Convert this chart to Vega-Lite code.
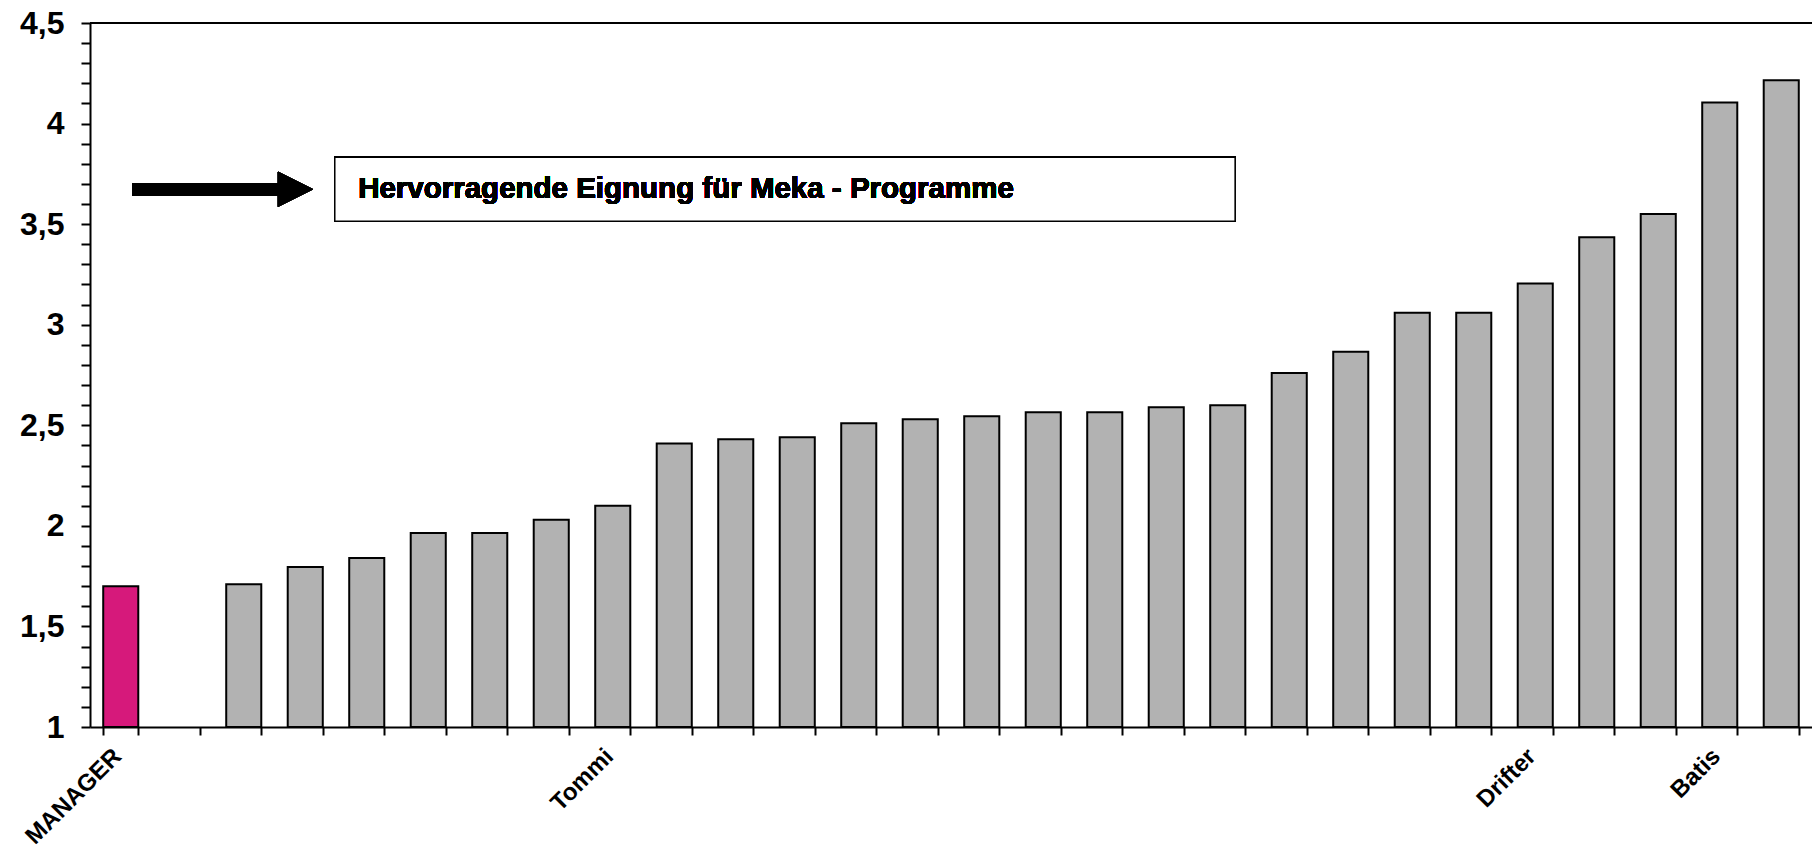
{
  "$schema": "https://vega.github.io/schema/vega-lite/v6.json",
  "width": 1722,
  "height": 704,
  "autosize": {"type": "none"},
  "padding": {"left": 90, "top": 23, "right": 0, "bottom": 122},
  "background": "white",
  "config": {"view": {"stroke": null}, "font": "Liberation Sans"},
  "data": {
    "values": [
      {"slot": 0, "name": "MANAGER", "group": "Manager", "value": 1.70},
      {"slot": 1, "name": "#1", "group": "Andere", "value": null},
      {"slot": 2, "name": "#2", "group": "Andere", "value": 1.71},
      {"slot": 3, "name": "#3", "group": "Andere", "value": 1.795},
      {"slot": 4, "name": "#4", "group": "Andere", "value": 1.84},
      {"slot": 5, "name": "#5", "group": "Andere", "value": 1.965},
      {"slot": 6, "name": "#6", "group": "Andere", "value": 1.965},
      {"slot": 7, "name": "#7", "group": "Andere", "value": 2.03},
      {"slot": 8, "name": "Tommi", "group": "Andere", "value": 2.10},
      {"slot": 9, "name": "#9", "group": "Andere", "value": 2.41},
      {"slot": 10, "name": "#10", "group": "Andere", "value": 2.43},
      {"slot": 11, "name": "#11", "group": "Andere", "value": 2.44},
      {"slot": 12, "name": "#12", "group": "Andere", "value": 2.51},
      {"slot": 13, "name": "#13", "group": "Andere", "value": 2.53},
      {"slot": 14, "name": "#14", "group": "Andere", "value": 2.545},
      {"slot": 15, "name": "#15", "group": "Andere", "value": 2.565},
      {"slot": 16, "name": "#16", "group": "Andere", "value": 2.565},
      {"slot": 17, "name": "#17", "group": "Andere", "value": 2.59},
      {"slot": 18, "name": "#18", "group": "Andere", "value": 2.60},
      {"slot": 19, "name": "#19", "group": "Andere", "value": 2.76},
      {"slot": 20, "name": "#20", "group": "Andere", "value": 2.865},
      {"slot": 21, "name": "#21", "group": "Andere", "value": 3.06},
      {"slot": 22, "name": "#22", "group": "Andere", "value": 3.06},
      {"slot": 23, "name": "Drifter", "group": "Andere", "value": 3.205},
      {"slot": 24, "name": "#24", "group": "Andere", "value": 3.435},
      {"slot": 25, "name": "#25", "group": "Andere", "value": 3.55},
      {"slot": 26, "name": "Batis", "group": "Andere", "value": 4.105},
      {"slot": 27, "name": "#27", "group": "Andere", "value": 4.215}
    ]
  },
  "layer": [
    {
      "layer": [
        {
          "mark": {"type": "text", "text": ""},
          "encoding": {
            "x": {
              "field": "name", "type": "nominal", "sort": null,
              "scale": {"paddingInner": 0.43, "paddingOuter": 0.215},
              "axis": {
                "title": null,
                "labelExpr": "indexof(datum.label, '#') == 0 ? '' : datum.label",
                "tickBand": "extent",
                "labelAngle": -45, "labelAlign": "right", "labelBaseline": "top",
                "labelFont": "Liberation Sans", "labelFontSize": 24, "labelFontWeight": "bold", "labelColor": "black",
                "labelPadding": 9, "labelOffset": -12, "labelOverlap": false, "labelLimit": 400,
                "tickSize": 8, "tickWidth": 2, "tickColor": "black",
                "domainWidth": 2, "domainColor": "black", "grid": false
              }
            },
            "y": {"datum": 1, "type": "quantitative"}
          }
        },
        {
          "mark": {"type": "bar", "stroke": "black", "strokeWidth": 2},
          "encoding": {
            "x": {"field": "name", "type": "nominal", "sort": null},
            "y": {
              "field": "value", "type": "quantitative",
              "scale": {"domain": [1, 4.5], "nice": false, "zero": false},
              "axis": {
                "title": null, "orient": "left",
                "values": [1, 1.5, 2, 2.5, 3, 3.5, 4, 4.5],
                "labelExpr": "replace(format(datum.value, '.1~f'), '.', ',')",
                "labelFont": "Liberation Sans", "labelFontSize": 32, "labelFontWeight": "bold", "labelColor": "black",
                "labelPadding": 17, "labelOverlap": false, "labelFlush": false,
                "tickSize": 9, "tickWidth": 2, "tickColor": "black",
                "domainWidth": 2, "domainColor": "black", "grid": false
              }
            },
            "y2": {"datum": 1},
            "color": {
              "field": "group", "type": "nominal",
              "scale": {"domain": ["Manager", "Andere"], "range": ["#d6197b", "#b2b2b2"]},
              "legend": null
            }
          }
        }
      ]
    },
    {
      "mark": {"type": "rule", "stroke": "black", "strokeWidth": 2},
      "encoding": {
        "y": {
          "datum": 4.5, "type": "quantitative",
          "axis": {
            "title": null, "orient": "left",
            "values": [1.1, 1.2, 1.3, 1.4, 1.6, 1.7, 1.8, 1.9, 2.1, 2.2, 2.3, 2.4, 2.6, 2.7, 2.8, 2.9, 3.1, 3.2, 3.3, 3.4, 3.6, 3.7, 3.8, 3.9, 4.1, 4.2, 4.3, 4.4],
            "labels": false, "domain": false, "grid": false,
            "tickSize": 9, "tickWidth": 2, "tickColor": "black"
          }
        }
      }
    },
    {
      "mark": {"type": "rule", "stroke": "black", "strokeWidth": 12},
      "encoding": {
        "x": {"datum": 0.688, "type": "quantitative", "scale": {"domain": [0, 28]}, "axis": null},
        "x2": {"datum": 3.05},
        "y": {"datum": 3.673, "type": "quantitative", "axis": null}
      }
    },
    {
      "mark": {"type": "point", "shape": "M -1 -1 L 1 0 L -1 1 Z", "size": 1225, "filled": true, "color": "black", "opacity": 1, "strokeWidth": 0},
      "encoding": {
        "x": {"datum": 3.34, "type": "quantitative", "scale": {"domain": [0, 28]}, "axis": null},
        "y": {"datum": 3.673, "type": "quantitative", "axis": null}
      }
    },
    {
      "mark": {"type": "rect", "fill": "white", "stroke": "black", "strokeWidth": 1.5},
      "encoding": {
        "x": {"datum": 3.98, "type": "quantitative", "scale": {"domain": [0, 28]}, "axis": null},
        "x2": {"datum": 18.62},
        "y": {"datum": 3.832, "type": "quantitative", "axis": null},
        "y2": {"datum": 3.514}
      }
    },
    {
      "mark": {"type": "text", "text": "Hervorragende Eignung für Meka - Programme", "align": "left", "baseline": "alphabetic", "font": "Liberation Sans", "fontWeight": "bold", "fontSize": 29.5, "color": "black"},
      "encoding": {
        "x": {"datum": 4.36, "type": "quantitative", "scale": {"domain": [0, 28]}, "axis": null},
        "y": {"datum": 3.629, "type": "quantitative", "axis": null}
      }
    }
  ],
  "resolve": {"scale": {"x": "independent"}, "axis": {"x": "independent", "y": "independent"}}
}
